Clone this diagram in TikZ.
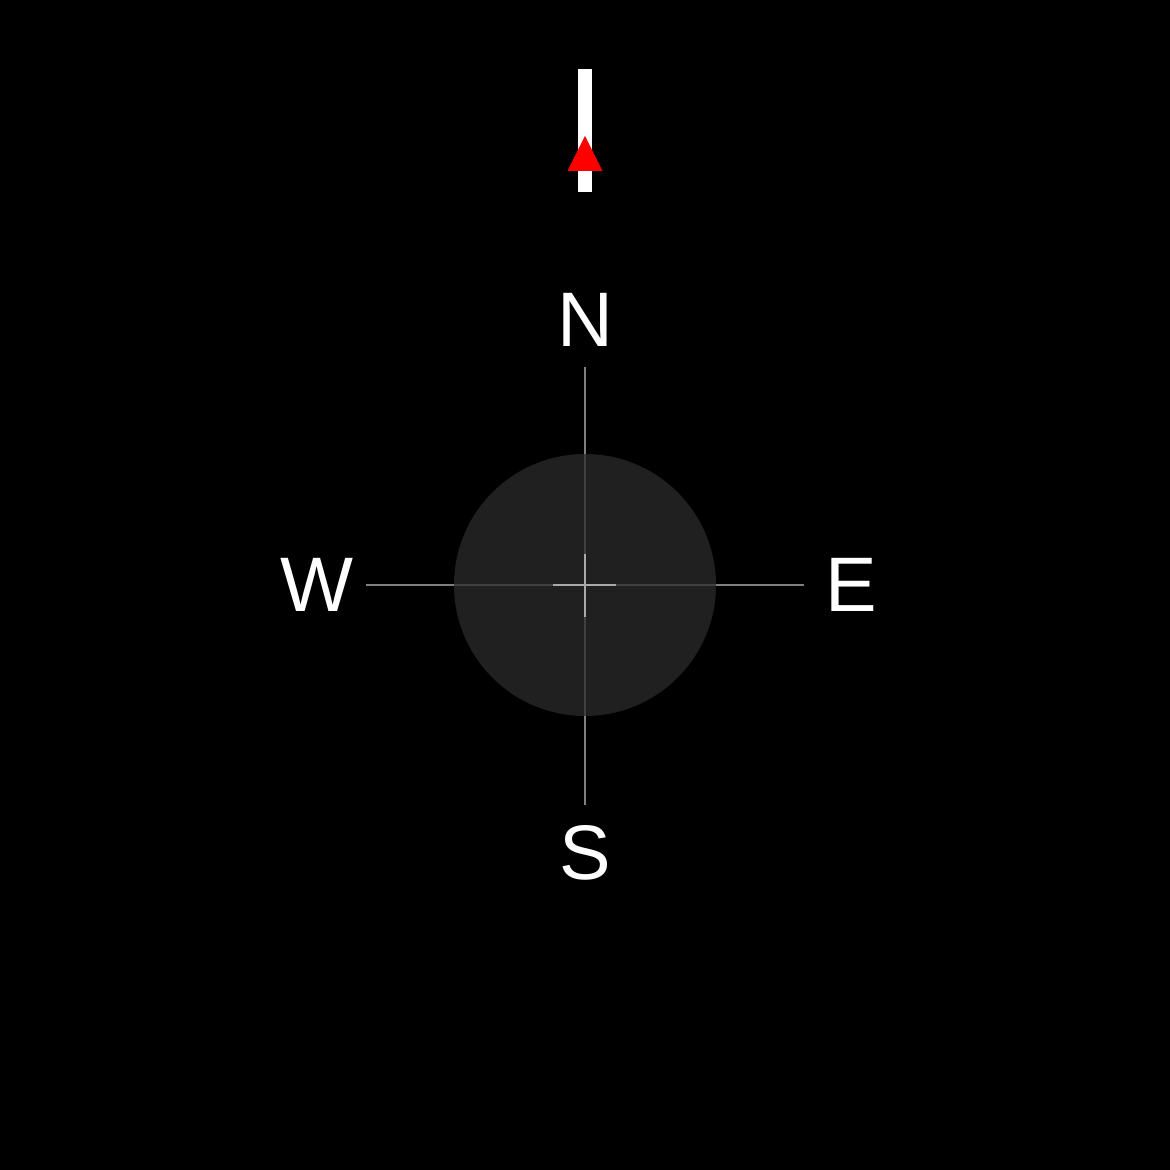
\documentclass[tikz,border=0pt]{standalone}
\usepackage{fontspec}
\setmainfont{Liberation Sans}
\usepackage{tikz}
\usetikzlibrary{positioning, calc}
\definecolor{bgdark}{RGB}{0,0,0}
\definecolor{dial}{RGB}{43,43,43}
\definecolor{axisgray}{RGB}{128,128,128}
\definecolor{crossgray}{RGB}{170,170,170}
\definecolor{needlered}{RGB}{255,0,0}

\begin{document}
\begin{tikzpicture}[
  cardinal/.style={text=white, font=\fontsize{22}{24}\selectfont, inner sep=0pt},
  axisline/.style={draw=axisgray, line width=0.35pt},
  crossline/.style={draw=crossgray, line width=0.35pt},
]
  % background and frame
  \fill[bgdark] (-5.85,-5.85) rectangle (5.85,5.85);
  \useasboundingbox (-5.85,-5.85) rectangle (5.85,5.85);

  \coordinate (centre) at (0,0);
  \coordinate (axN) at (0,2.18);
  \coordinate (axS) at (0,-2.20);
  \coordinate (axW) at (-2.19,0);
  \coordinate (axE) at (2.19,0);

  % axes
  \draw[axisline] (axN) -- (axS);
  \draw[axisline] (axW) -- (axE);

  % dial
  \fill[dial, fill opacity=0.75] (centre) circle (1.31);

  % small crosshair
  \draw[crossline] ($(centre)+(-0.32,0)$) -- ($(centre)+(0.31,0)$);
  \draw[crossline] ($(centre)+(0,0.31)$) -- ($(centre)+(0,-0.32)$);

  % labels
  \node[cardinal] (lblN) at (0,2.65) {N};
  \node[cardinal] (lblS) at (0,-2.68) {S};
  \node[cardinal] (lblW) at (-2.68,0) {W};
  \node[cardinal] (lblE) at (2.66,0) {E};

  % needle
  \fill[white] (-0.07,3.93) rectangle (0.07,5.16);
  \fill[needlered] (-0.175,4.14) -- (0,4.49) -- (0.175,4.14) -- cycle;
\end{tikzpicture}
\end{document}
